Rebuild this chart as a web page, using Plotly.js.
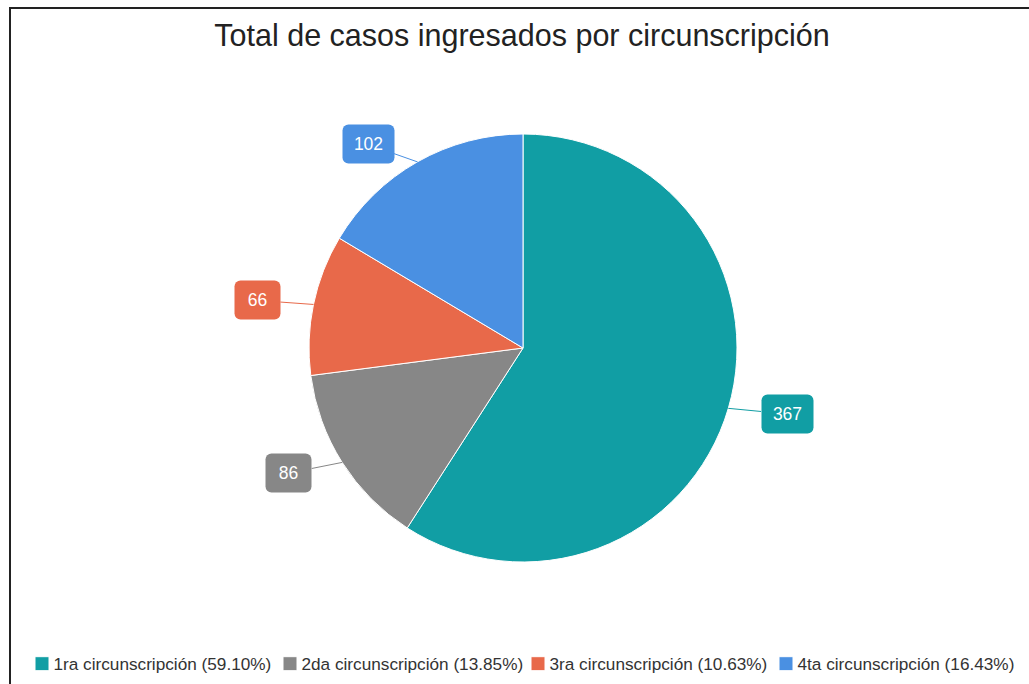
<!DOCTYPE html>
<html><head><meta charset="utf-8">
<script src="https://cdn.plot.ly/plotly-3.0.1.min.js"></script>
<style>
html,body{margin:0;padding:0;background:#fff;overflow:hidden}
#chart{position:absolute;left:0;top:0;width:1029px;height:684px}
#frame{position:absolute;left:9px;top:7px;width:1100px;height:800px;border:2px solid #222;pointer-events:none;box-sizing:border-box}
</style></head><body>
<div id="chart"></div><div id="frame"></div>
<script>
const categories = ["1ra circunscripción","2da circunscripción","3ra circunscripción","4ta circunscripción"];
const values = [367, 86, 66, 102];
const colors = ["#119EA4", "#878787", "#E8694A", "#4A90E2"];
const chartTitle = "Total de casos ingresados por circunscripción";

const W = 1029, H = 684, cx = 523, cy = 348, R = 214;
const total = values.reduce((a, b) => a + b, 0);
const legendLabels = categories.map((c, i) => c + " (" + (values[i] / total * 100).toFixed(2) + "%)");

const pad = 9;
let cum = 0;
const annotations = values.map((v, i) => {
  const mid = (cum + v / 2) / total * 2 * Math.PI; cum += v;
  const dx = Math.sin(mid), dy = -Math.cos(mid);
  const ex = cx + R * dx, ey = cy + R * dy;
  const txt = String(v);
  const boxW = txt.length * 6 + 15;
  const halfW = boxW / 2 + pad;
  return {
    xref: 'paper', yref: 'paper', x: ex / W, y: 1 - ey / H,
    text: txt, width: boxW, align: 'center', showarrow: true, arrowhead: 0, arrowwidth: 1, arrowcolor: colors[i],
    ax: 20 * dx + Math.sign(dx) * (halfW + 14), ay: 20 * dy, standoff: 0,
    bgcolor: colors[i], borderpad: pad,
    font: {color: '#fff', size: 17.5, family: 'Liberation Sans, Arial, sans-serif'}
  };
});

const trace = {
  type: 'pie', labels: legendLabels, values: values, sort: false,
  direction: 'clockwise', rotation: 0, textinfo: 'none',
  marker: {colors: colors, line: {color: '#fff', width: 1}},
  domain: {x: [(cx - R) / W, (cx + R) / W], y: [1 - (cy + R) / H, 1 - (cy - R) / H]}
};

const layout = {
  width: W, height: H,
  margin: {l: 0, r: 0, t: 0, b: 0, autoexpand: false},
  paper_bgcolor: '#fff',
  font: {family: 'Liberation Sans, Arial, sans-serif', color: '#222'},
  title: {text: chartTitle, x: 522 / W, xanchor: 'center', xref: 'paper', yref: 'container', y: 1 - 35 / H, yanchor: 'middle', font: {size: 30.5, color: '#222'}},
  showlegend: true,
  legend: {orientation: 'h', x: 518 / W, xanchor: 'center', y: 1 - 664 / H, yanchor: 'middle', font: {size: 17.2, color: '#333'}, traceorder: 'normal', entrywidth: 203, entrywidthmode: 'pixels'},
  annotations: annotations
};

Plotly.newPlot('chart', [trace], layout, {displayModeBar: false, staticPlot: true}).then(() => {
  document.querySelectorAll('.annotation-text-g rect.bg').forEach(r => { r.setAttribute('rx', 6); r.setAttribute('ry', 6); });
  document.querySelectorAll('.legend .scrollbox').forEach(e => e.removeAttribute('clip-path'));
  document.querySelectorAll('.legend text.legendtext').forEach(t => t.setAttribute('x', 31.5));
  document.querySelectorAll('.legend .legendpoints path').forEach(p => p.setAttribute('d', 'M7,7H-7V-7H7Z'));
});
</script>
</body></html>
